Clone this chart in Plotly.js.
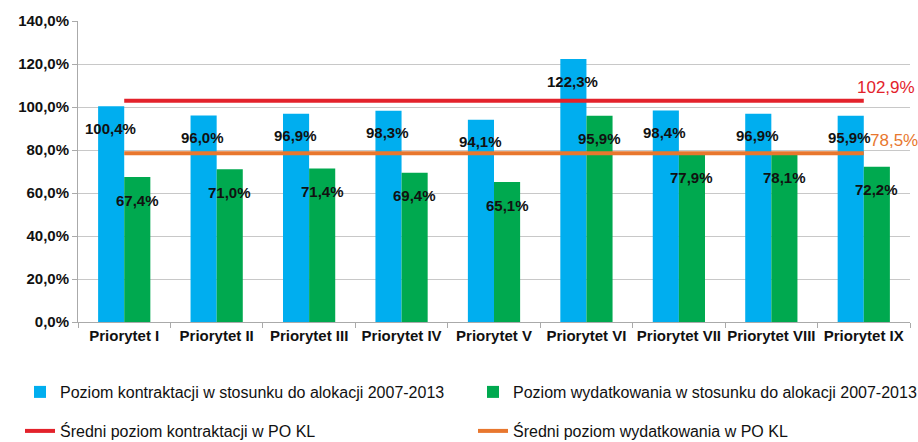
<!DOCTYPE html>
<html>
<head>
<meta charset="utf-8">
<script src="https://cdn.plot.ly/plotly-3.0.1.min.js"></script>
<style>
  html, body { margin: 0; padding: 0; background: #fff; }
  #chart { width: 918px; height: 442px; }
</style>
</head>
<body>
<div id="chart"></div>
<script>
// Kontraktacja i wydatkowanie wg priorytetów PO KL
const categories = ['Priorytet I', 'Priorytet II', 'Priorytet III', 'Priorytet IV', 'Priorytet V',
  'Priorytet VI', 'Priorytet VII', 'Priorytet VIII', 'Priorytet IX'];
const contracting = [100.4, 96.0, 96.9, 98.3, 94.1, 122.3, 98.4, 96.9, 95.9];
const spending = [67.4, 71.0, 71.4, 69.4, 65.1, 95.9, 77.9, 78.1, 72.2];
const avgContracting = 102.9;
const avgSpending = 78.5;

const FONT = 'Liberation Sans, Arial, sans-serif';
const BLUE = '#00AEEF', GREEN = '#00A94F', RED = '#E3222B', ORANGE = '#E8772E';
const pct = v => v.toFixed(1).replace('.', ',') + '%';

const traces = [
  { type: 'bar', x: categories, y: contracting, name: 'Poziom kontraktacji w stosunku do alokacji 2007-2013',
    marker: { color: BLUE }, legend: 'legend' },
  { type: 'bar', x: categories, y: spending, name: 'Poziom wydatkowania w stosunku do alokacji 2007-2013',
    marker: { color: GREEN }, legend: 'legend2' },
  { type: 'scatter', mode: 'lines', x: categories, y: categories.map(() => avgContracting),
    name: 'Średni poziom kontraktacji w PO KL', line: { color: RED, width: 4 }, legend: 'legend3' },
  { type: 'scatter', mode: 'lines', x: categories, y: categories.map(() => avgSpending),
    name: 'Średni poziom wydatkowania w PO KL', line: { color: ORANGE, width: 4 }, legend: 'legend4' },
];

// value labels, a little below the top of each bar
const lblFont = { family: FONT, size: 15, color: '#111', weight: 'bold' };
const annotations = [];
categories.forEach((c, i) => {
  annotations.push({ x: c, y: contracting[i], text: pct(contracting[i]), showarrow: false,
    xshift: -14, yshift: -22, font: lblFont });
  annotations.push({ x: c, y: spending[i], text: pct(spending[i]), showarrow: false,
    xshift: 13, yshift: -23, font: lblFont });
});
const last = categories[categories.length - 1];
annotations.push({ x: last, y: avgContracting, text: pct(avgContracting), showarrow: false,
  xanchor: 'left', xshift: -9, yshift: 13, font: { family: FONT, size: 17, color: RED } });
annotations.push({ x: last, y: avgSpending, text: pct(avgSpending), showarrow: false,
  xanchor: 'left', xshift: 4, yshift: 13, font: { family: FONT, size: 17, color: ORANGE } });

const legendBase = { orientation: 'h', xref: 'container', yref: 'container', xanchor: 'left',
  yanchor: 'middle', itemwidth: 30, font: { family: FONT, size: 16, color: '#111' },
  bgcolor: 'rgba(0,0,0,0)' };
const col1 = 20 / 918, col2 = 473 / 918, row1 = 1 - 392 / 442, row2 = 1 - 431 / 442;

const layout = {
  width: 918, height: 442,
  margin: { l: 78, r: 8, t: 21, b: 120 },
  paper_bgcolor: '#fff', plot_bgcolor: '#fff',
  separators: ', ',
  barmode: 'group', bargap: 0.435, bargroupgap: 0,
  font: { family: FONT, size: 14, color: '#111' },
  showlegend: true,
  legend: Object.assign({}, legendBase, { x: col1, y: row1 }),
  legend2: Object.assign({}, legendBase, { x: col2, y: row1 }),
  legend3: Object.assign({}, legendBase, { x: col1, y: row2 }),
  legend4: Object.assign({}, legendBase, { x: col2, y: row2 }),
  xaxis: {
    type: 'category', range: [-0.5, categories.length - 0.5],
    showgrid: false, showline: true, linecolor: '#aaa', linewidth: 1,
    ticks: 'outside', tickson: 'boundaries', ticklen: 5, tickcolor: '#aaa',
    tickangle: 0, automargin: false,
    tickfont: { family: FONT, size: 15, color: '#111', weight: 'bold' },
  },
  yaxis: {
    range: [0, 140], dtick: 20, tickformat: '.1f', ticksuffix: '%',
    showgrid: true, gridcolor: '#c8c8c8', gridwidth: 1, automargin: false,
    showline: true, linecolor: '#aaa', ticks: 'outside', ticklen: 5, tickcolor: '#aaa',
    zeroline: false,
    tickfont: { family: FONT, size: 15, color: '#111', weight: 'bold' },
  },
  annotations,
};

Plotly.newPlot('chart', traces, layout, { staticPlot: true, displayModeBar: false });
</script>
</body>
</html>
